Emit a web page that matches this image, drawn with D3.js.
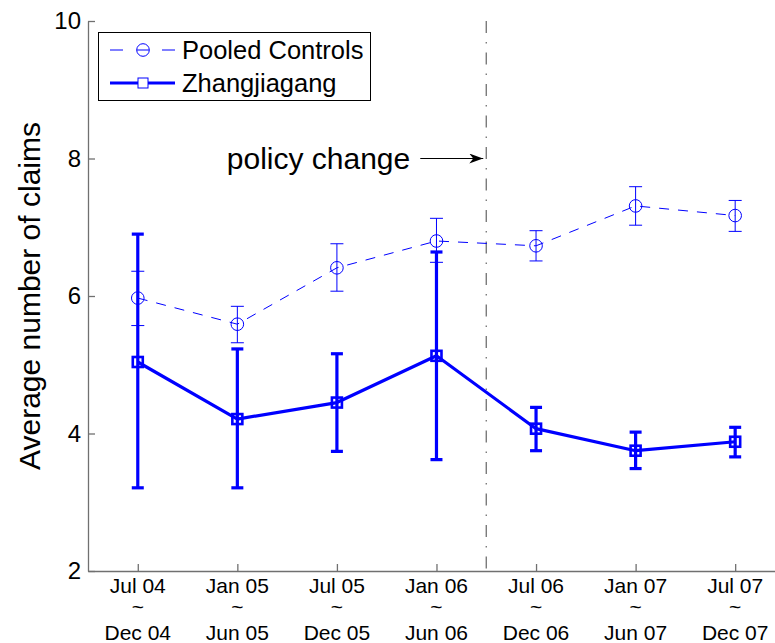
<!DOCTYPE html>
<html>
<head>
<meta charset="utf-8">
<script src="https://cdn.jsdelivr.net/npm/d3@7"></script>
<style>
  html, body { margin: 0; padding: 0; background: #fff; }
  svg { display: block; font-family: "Liberation Sans", Arial, sans-serif; }
</style>
</head>
<body>
<div id="chart"></div>
<script>
// ── data ────────────────────────────────────────────
const periodStart = ['Jul 04', 'Jan 05', 'Jul 05', 'Jan 06', 'Jul 06', 'Jan 07', 'Jul 07'];
const periodEnd   = ['Dec 04', 'Jun 05', 'Dec 05', 'Jun 06', 'Dec 06', 'Jun 07', 'Dec 07'];

const pooledMean = [5.97, 5.59, 6.41, 6.80, 6.73, 7.31, 7.17];
const pooledLow  = [5.57, 5.32, 6.07, 6.49, 6.51, 7.03, 6.94];
const pooledHigh = [6.36, 5.85, 6.76, 7.13, 6.95, 7.59, 7.39];

const zhangMean = [5.04, 4.21, 4.45, 5.13, 4.07, 3.75, 3.88];
const zhangLow  = [3.21, 3.21, 3.74, 3.62, 3.75, 3.49, 3.66];
const zhangHigh = [6.90, 5.23, 5.16, 6.64, 4.38, 4.02, 4.09];

const yTicks = [2, 4, 6, 8, 10];
const policyAt = 4.5;           // between Jan 06 and Jul 06
const policyLabel = 'policy change';

// ── layout ──────────────────────────────────────────
const W = 775, H = 643;
const M = { left: 88, right: 775, top: 21, bottom: 571 };
const BLUE = '#0000ff';
const AXIS = '#707070';

const svg = d3.select('#chart').append('svg')
  .attr('width', W).attr('height', H);

const x = d3.scaleLinear().domain([0.5, 7.4]).range([M.left, M.right]);
const y = d3.scaleLinear().domain([2, 10]).range([M.bottom, M.top]);
const idx = d3.range(1, periodStart.length + 1);

// ── axes ────────────────────────────────────────────
const yAxis = svg.append('g')
  .attr('transform', `translate(${M.left},0)`)
  .call(d3.axisLeft(y).tickValues(yTicks).tickSizeInner(-7).tickSizeOuter(0).tickPadding(7));
yAxis.select('.domain').attr('stroke', AXIS).attr('stroke-width', 1.3);
yAxis.selectAll('.tick line').attr('stroke', AXIS).attr('stroke-width', 1.3);
yAxis.selectAll('.tick text')
  .attr('font-size', 24).attr('fill', '#000')
  .attr('font-family', '"Liberation Sans", Arial, sans-serif');

const xAxis = svg.append('g')
  .attr('transform', `translate(0,${M.bottom})`)
  .call(d3.axisBottom(x).tickValues(idx).tickSizeInner(-7).tickSizeOuter(0).tickFormat(''));
xAxis.select('.domain').attr('stroke', AXIS).attr('stroke-width', 1.3);
xAxis.selectAll('.tick line').attr('stroke', AXIS).attr('stroke-width', 1.3);

// three-line tick labels
const xLab = svg.append('g')
  .attr('font-size', 21).attr('fill', '#000').attr('text-anchor', 'middle');
idx.forEach((v, i) => {
  const t = xLab.append('text').attr('x', x(v));
  t.append('tspan').attr('x', x(v)).attr('y', 593).text(periodStart[i]);
  t.append('tspan').attr('x', x(v)).attr('y', 614).text('~');
  t.append('tspan').attr('x', x(v)).attr('y', 640).text(periodEnd[i]);
});

// y-axis title
svg.append('text')
  .attr('transform', `translate(40,${(M.top + M.bottom) / 2}) rotate(-90)`)
  .attr('text-anchor', 'middle')
  .attr('font-size', 30)
  .attr('fill', '#000')
  .text('Average number of claims');

// ── policy change line + arrow ──────────────────────
svg.append('line')
  .attr('x1', x(policyAt)).attr('x2', x(policyAt))
  .attr('y1', M.top).attr('y2', M.bottom)
  .attr('stroke', AXIS).attr('stroke-width', 1.3)
  .attr('stroke-dasharray', '12 9 1.5 9');

svg.append('defs').append('marker')
  .attr('id', 'arrow').attr('viewBox', '0 0 14 10')
  .attr('refX', 14).attr('refY', 5)
  .attr('markerWidth', 14).attr('markerHeight', 10)
  .attr('markerUnits', 'userSpaceOnUse')
  .attr('orient', 'auto')
  .append('path').attr('d', 'M0,0 L14,5 L0,10 L4,5 Z').attr('fill', '#000');

const arrowY = y(8);
svg.append('line')
  .attr('x1', x(policyAt) - 66).attr('x2', x(policyAt) - 3)
  .attr('y1', arrowY).attr('y2', arrowY)
  .attr('stroke', '#000').attr('stroke-width', 1.2)
  .attr('marker-end', 'url(#arrow)');

svg.append('text')
  .attr('x', x(policyAt) - 76).attr('y', arrowY + 10)
  .attr('text-anchor', 'end')
  .attr('font-size', 30)
  .attr('fill', '#000')
  .text(policyLabel);

// ── series ──────────────────────────────────────────
const line = d3.line().x((d, i) => x(idx[i])).y(d => y(d));

// pooled controls: thin dashed, circles
const gP = svg.append('g');
gP.append('path').datum(pooledMean).attr('d', line)
  .attr('fill', 'none').attr('stroke', BLUE).attr('stroke-width', 1)
  .attr('stroke-dasharray', '10 9');
idx.forEach((v, i) => {
  const cx = x(v), cap = 6.5;
  gP.append('line').attr('x1', cx).attr('x2', cx)
    .attr('y1', y(pooledLow[i])).attr('y2', y(pooledHigh[i]))
    .attr('stroke', BLUE).attr('stroke-width', 1);
  [pooledLow[i], pooledHigh[i]].forEach(e => {
    gP.append('line').attr('x1', cx - cap).attr('x2', cx + cap)
      .attr('y1', y(e)).attr('y2', y(e))
      .attr('stroke', BLUE).attr('stroke-width', 1);
  });
  gP.append('circle').attr('cx', cx).attr('cy', y(pooledMean[i])).attr('r', 6.3)
    .attr('fill', 'none').attr('stroke', BLUE).attr('stroke-width', 1);
});

// Zhangjiagang: thick solid, squares
const gZ = svg.append('g');
gZ.append('path').datum(zhangMean).attr('d', line)
  .attr('fill', 'none').attr('stroke', BLUE).attr('stroke-width', 3.2)
  .attr('stroke-linejoin', 'round');
idx.forEach((v, i) => {
  const cx = x(v), cap = 6;
  gZ.append('line').attr('x1', cx).attr('x2', cx)
    .attr('y1', y(zhangLow[i])).attr('y2', y(zhangHigh[i]))
    .attr('stroke', BLUE).attr('stroke-width', 3.2);
  [zhangLow[i], zhangHigh[i]].forEach(e => {
    gZ.append('line').attr('x1', cx - cap).attr('x2', cx + cap)
      .attr('y1', y(e)).attr('y2', y(e))
      .attr('stroke', BLUE).attr('stroke-width', 3.2);
  });
  gZ.append('rect').attr('x', cx - 5).attr('y', y(zhangMean[i]) - 5)
    .attr('width', 10).attr('height', 10)
    .attr('fill', 'none').attr('stroke', BLUE).attr('stroke-width', 2.6);
});

// ── legend ──────────────────────────────────────────
const lg = svg.append('g');
lg.append('rect').attr('x', 98.5).attr('y', 32.5).attr('width', 272).attr('height', 68)
  .attr('fill', '#fff').attr('stroke', '#000').attr('stroke-width', 1);

const r1 = 50, r2 = 83;
lg.append('line').attr('x1', 110).attr('x2', 123).attr('y1', r1).attr('y2', r1)
  .attr('stroke', BLUE).attr('stroke-width', 1);
lg.append('line').attr('x1', 162).attr('x2', 175).attr('y1', r1).attr('y2', r1)
  .attr('stroke', BLUE).attr('stroke-width', 1);
lg.append('circle').attr('cx', 143).attr('cy', r1).attr('r', 6.3)
  .attr('fill', 'none').attr('stroke', BLUE).attr('stroke-width', 1);
lg.append('line').attr('x1', 137).attr('x2', 149).attr('y1', r1).attr('y2', r1)
  .attr('stroke', BLUE).attr('stroke-width', 1);

lg.append('line').attr('x1', 110).attr('x2', 175).attr('y1', r2).attr('y2', r2)
  .attr('stroke', BLUE).attr('stroke-width', 3.2);
lg.append('rect').attr('x', 138).attr('y', r2 - 5).attr('width', 10).attr('height', 10)
  .attr('fill', '#fff').attr('stroke', BLUE).attr('stroke-width', 1);

lg.append('text').attr('x', 182).attr('y', r1 + 9).attr('font-size', 25.5).attr('fill', '#000')
  .text('Pooled Controls');
lg.append('text').attr('x', 182).attr('y', r2 + 9).attr('font-size', 25.5).attr('fill', '#000')
  .text('Zhangjiagang');
</script>
</body>
</html>
